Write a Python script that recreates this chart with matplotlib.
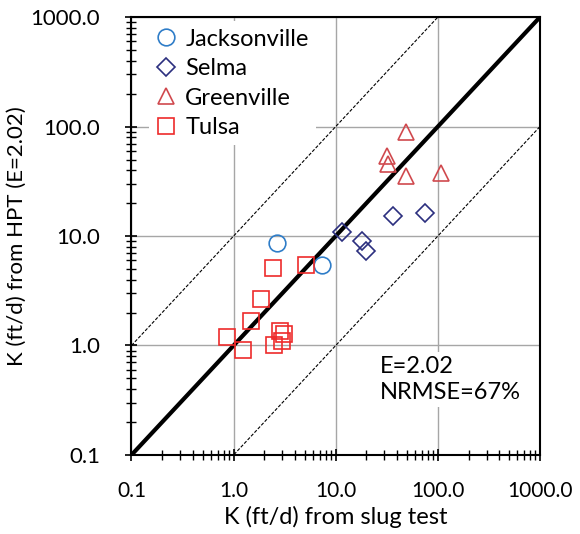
import numpy as np
import matplotlib
matplotlib.use('Agg')
from matplotlib import pyplot as plt
from matplotlib.ticker import LogLocator, FuncFormatter, NullFormatter

# slug-test K (x) vs HPT K (y), ft/d
jack_x = [2.65, 7.3]
jack_y = [8.6, 5.4]

selma_x = [11.5, 17.9, 19.6, 36.0, 74.0]
selma_y = [10.8, 9.0, 7.3, 15.1, 16.2]

green_x = [49.0, 32.0, 32.7, 49.0, 108.0]
green_y = [89.0, 54.0, 45.6, 35.0, 38.0]

tulsa_x = [0.86, 1.23, 1.49, 1.86, 2.42, 5.09, 2.86, 3.08, 2.97, 2.5]
tulsa_y = [1.19, 0.91, 1.66, 2.67, 5.08, 5.38, 1.37, 1.28, 1.11, 1.0]

lims = [0.1, 1000.0]
band = 10.0  # dashed lines at one order of magnitude
stats_text = 'E=2.02\nNRMSE=67%'

plt.rcParams['font.family'] = ['Lato', 'DejaVu Sans']

fig = plt.figure(figsize=(5.8, 5.34), dpi=100)
ax = fig.add_axes([0.2267, 0.148, 0.7043, 0.820])

ax.set_xscale('log')
ax.set_yscale('log')
ax.set_xlim(lims)
ax.set_ylim(lims)

ax.grid(True, which='major', color='#a6a6a6', lw=1.0, zorder=0)

line = np.array(lims)
ax.plot(line, line, color='black', lw=3.0, zorder=2)
ax.plot(line, line * band, color='black', lw=0.8, ls=(0, (3, 1.5)), zorder=2)
ax.plot(line, line / band, color='black', lw=0.8, ls=(0, (3, 1.5)), zorder=2)

ax.plot(jack_x, jack_y, 'o', ms=12, mfc='none', mec='#2f7dc8', mew=1.2, label='Jacksonville', zorder=3)
ax.plot(selma_x, selma_y, 'D', ms=9, mfc='none', mec='#2b2f7f', mew=1.2, label='Selma', zorder=3)
ax.plot(green_x, green_y, '^', ms=12, mfc='none', mec='#d0494e', mew=1.2, label='Greenville', zorder=3)
ax.plot(tulsa_x, tulsa_y, 's', ms=12, mfc='none', mec='#ee2b2b', mew=1.2, label='Tulsa', zorder=3)

leg = ax.legend(loc='upper left', frameon=True, fontsize=17, handlelength=0.9,
                handletextpad=0.35, labelspacing=0.36, borderaxespad=0.0,
                borderpad=0.3, bbox_to_anchor=(0.042, 0.99))
leg.get_frame().set_edgecolor('none')
leg.get_frame().set_facecolor('white')
leg.get_frame().set_alpha(1.0)
leg.set_zorder(5)

ax.text(0.607, 0.225, stats_text, transform=ax.transAxes, fontsize=17,
        va='top', ha='left', linespacing=1.25, zorder=5,
        bbox=dict(facecolor='white', edgecolor='none', pad=3))

for axis in (ax.xaxis, ax.yaxis):
    axis.set_major_locator(LogLocator(base=10, numticks=10))
    axis.set_minor_locator(LogLocator(base=10, subs=np.arange(2, 10), numticks=10))
    axis.set_major_formatter(FuncFormatter(lambda v, p: f'{v:.1f}'))
    axis.set_minor_formatter(NullFormatter())

ax.tick_params(which='major', direction='inout', length=9, width=1.2)
ax.tick_params(axis='x', which='major', pad=14, labelsize=15)
ax.tick_params(axis='y', which='major', pad=18, labelsize=16)
ax.tick_params(which='minor', direction='inout', length=7, width=1.0)
for s in ax.spines.values():
    s.set_linewidth(1.5)
    s.set_zorder(6)

ax.set_xlabel('K (ft/d) from slug test', fontsize=17, labelpad=4)
ax.set_ylabel('K (ft/d) from HPT (E=2.02)', fontsize=16, labelpad=3)

fig.savefig('out.png', dpi=100)
